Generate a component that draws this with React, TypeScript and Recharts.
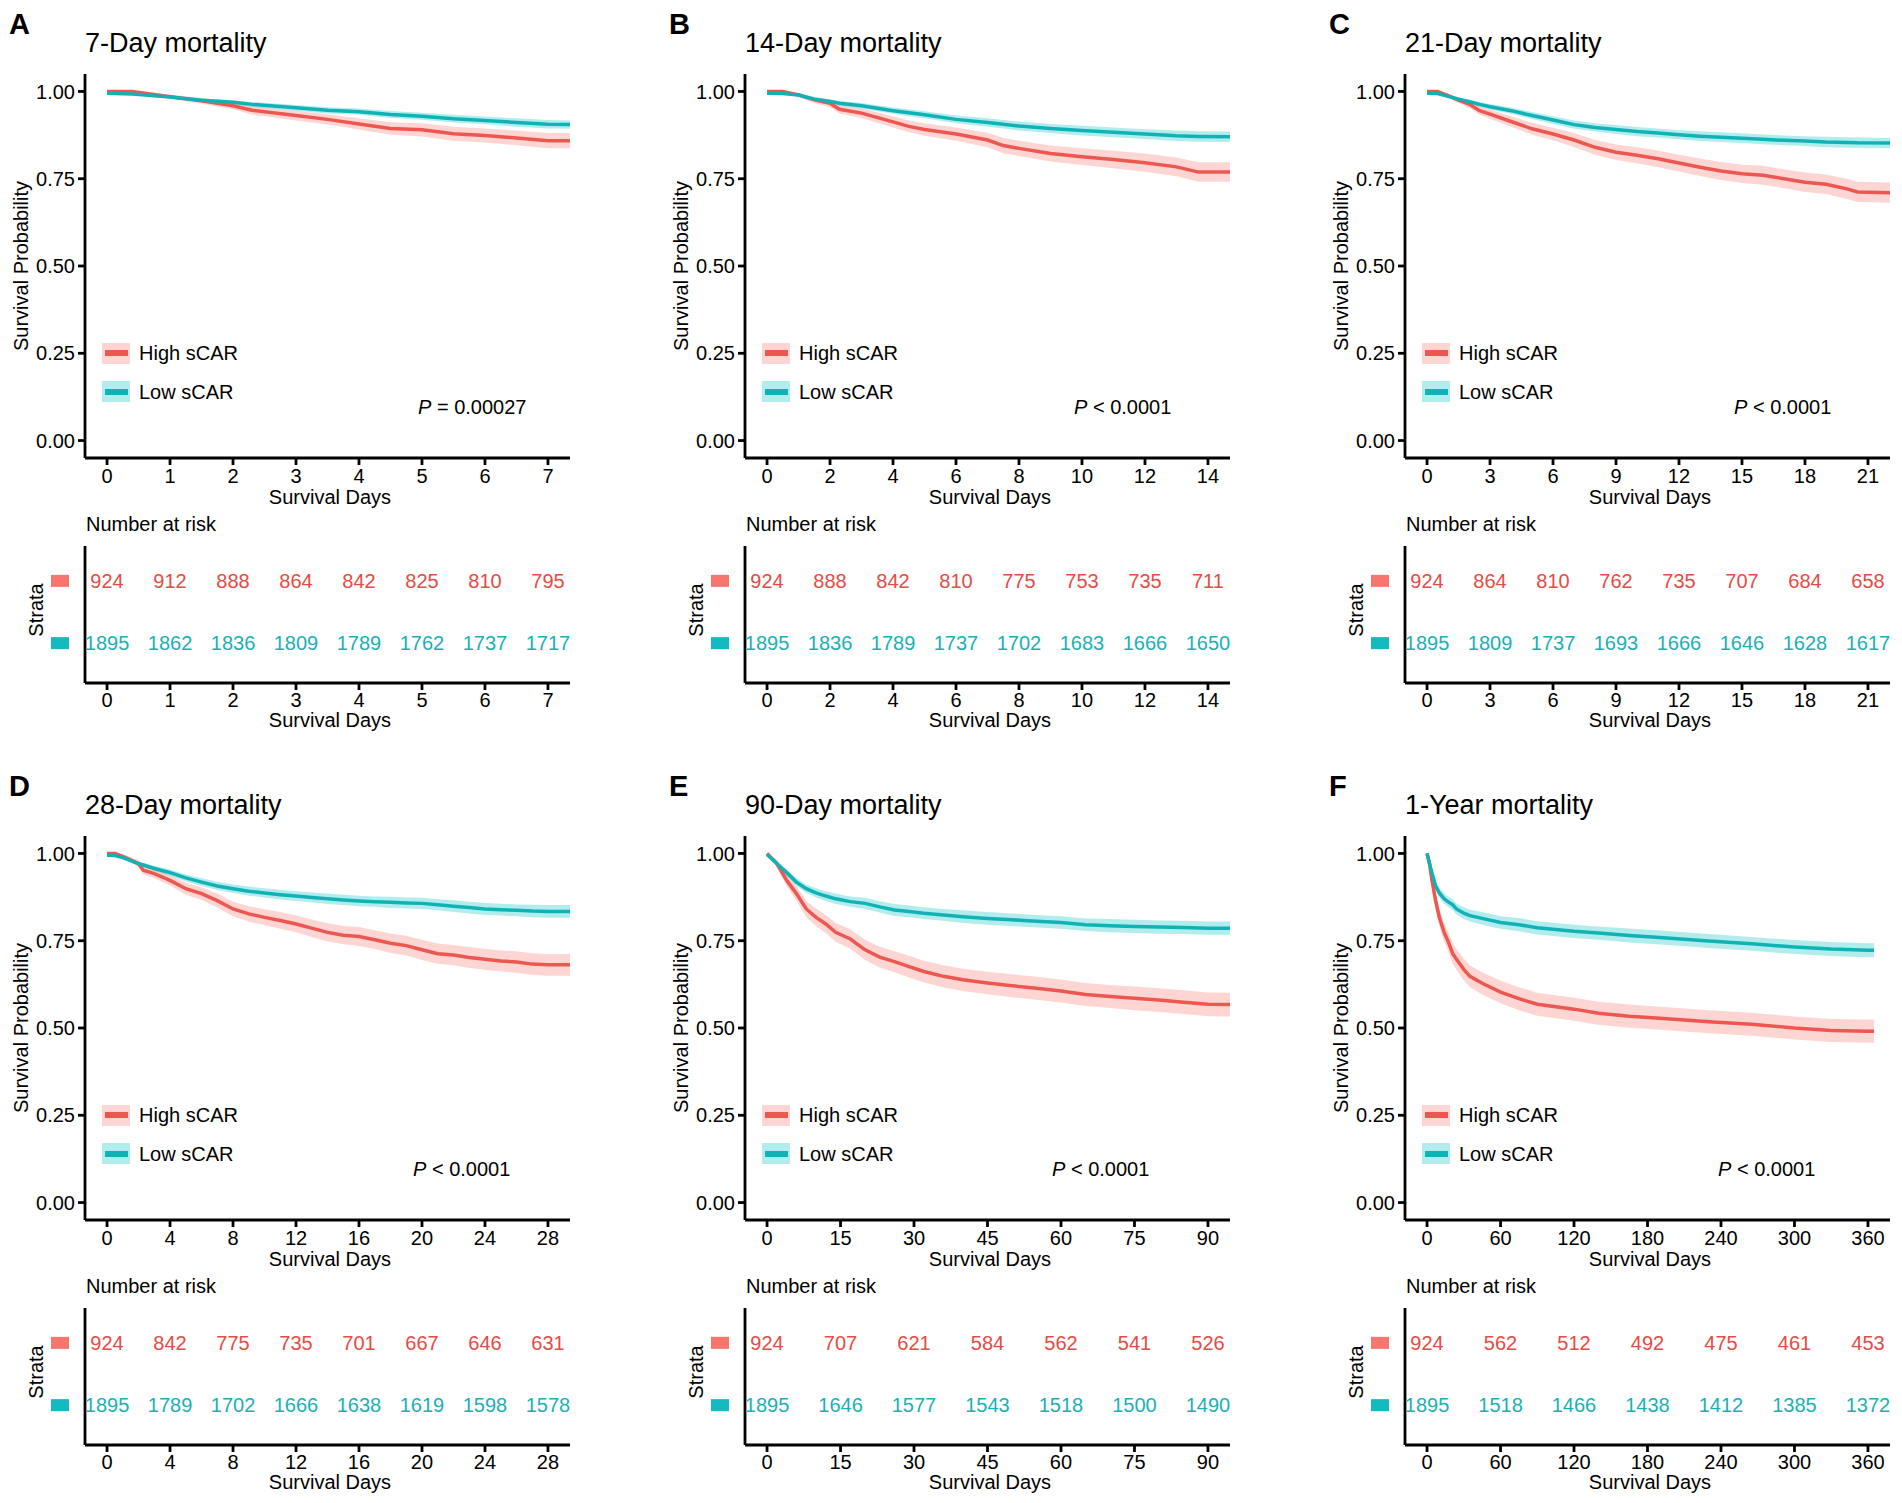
import React from 'react';
import { ComposedChart, Line, Area, XAxis, YAxis, ScatterChart, Scatter } from 'recharts';

const FONT = '"Liberation Sans", Arial, Helvetica, sans-serif';
const RED = '#EE5650';
const TEAL = '#10B2B6';
const RED_BAND = '#F8766D';
const TEAL_BAND = '#00BFC4';
const RED_TEXT = '#E84A44';
const TEAL_TEXT = '#19B1B5';
const RED_SQ = '#F7766D';
const TEAL_SQ = '#13BAC0';

const Y_TICKS = [0, 0.25, 0.5, 0.75, 1];

// A: 7-day
const timesA = [0, 0.4, 1, 1.5, 2, 2.3, 3, 3.5, 4, 4.5, 5, 5.5, 6, 6.5, 7, 7.35];
const highA = [1, 1, 0.985, 0.973, 0.959, 0.946, 0.931, 0.92, 0.907, 0.894, 0.89, 0.879, 0.874, 0.867, 0.859, 0.859];
const highCiA = [0, 0, 0.006, 0.008, 0.01, 0.012, 0.014, 0.015, 0.016, 0.018, 0.019, 0.02, 0.02, 0.021, 0.022, 0.022];
const lowA = [0.995, 0.993, 0.984, 0.975, 0.969, 0.963, 0.953, 0.946, 0.942, 0.934, 0.929, 0.922, 0.917, 0.911, 0.906, 0.905];
const lowCiA = [0.002, 0.002, 0.004, 0.005, 0.006, 0.007, 0.008, 0.009, 0.009, 0.01, 0.01, 0.011, 0.011, 0.012, 0.012, 0.012];
const ticksA = [0, 1, 2, 3, 4, 5, 6, 7];
const riskHighA = [924, 912, 888, 864, 842, 825, 810, 795];
const riskLowA = [1895, 1862, 1836, 1809, 1789, 1762, 1737, 1717];

// B: 14-day
const timesB = [0, 0.5, 1, 1.5, 2, 2.3, 3, 4, 4.5, 5, 6, 7, 7.5, 8, 9, 10, 11, 12, 13, 13.7, 14.7];
const highB = [1, 1, 0.99, 0.976, 0.966, 0.949, 0.938, 0.913, 0.9, 0.891, 0.878, 0.861, 0.845, 0.837, 0.822, 0.813, 0.805, 0.796, 0.784, 0.769, 0.769];
const highCiB = [0, 0, 0.006, 0.009, 0.011, 0.012, 0.014, 0.016, 0.017, 0.018, 0.019, 0.021, 0.022, 0.022, 0.023, 0.024, 0.025, 0.026, 0.027, 0.028, 0.028];
const lowB = [0.995, 0.994, 0.99, 0.978, 0.971, 0.966, 0.959, 0.945, 0.939, 0.933, 0.92, 0.911, 0.906, 0.901, 0.894, 0.888, 0.883, 0.878, 0.873, 0.871, 0.87];
const lowCiB = [0.002, 0.002, 0.004, 0.005, 0.006, 0.007, 0.008, 0.009, 0.01, 0.01, 0.011, 0.012, 0.012, 0.013, 0.013, 0.014, 0.014, 0.014, 0.015, 0.015, 0.015];
const ticksB = [0, 2, 4, 6, 8, 10, 12, 14];
const riskHighB = [924, 888, 842, 810, 775, 753, 735, 711];
const riskLowB = [1895, 1836, 1789, 1737, 1702, 1683, 1666, 1650];

// C: 21-day
const timesC = [0, 0.5, 1, 1.5, 2, 2.5, 3, 4, 5, 6, 7, 8, 9, 10, 11, 12, 13, 14, 15, 16, 17, 18, 19, 20, 20.5, 22.05];
const highC = [1, 1, 0.988, 0.975, 0.964, 0.945, 0.935, 0.914, 0.893, 0.878, 0.861, 0.84, 0.826, 0.817, 0.807, 0.795, 0.783, 0.772, 0.764, 0.76, 0.75, 0.74, 0.734, 0.721, 0.712, 0.71];
const highCiC = [0, 0, 0.006, 0.008, 0.01, 0.012, 0.013, 0.015, 0.017, 0.018, 0.02, 0.021, 0.022, 0.023, 0.024, 0.024, 0.025, 0.026, 0.026, 0.027, 0.027, 0.028, 0.028, 0.029, 0.029, 0.029];
const lowC = [0.995, 0.994, 0.986, 0.978, 0.971, 0.963, 0.956, 0.945, 0.931, 0.918, 0.905, 0.897, 0.891, 0.885, 0.881, 0.876, 0.872, 0.869, 0.866, 0.863, 0.86, 0.858, 0.855, 0.854, 0.853, 0.852];
const lowCiC = [0.002, 0.002, 0.004, 0.005, 0.006, 0.007, 0.008, 0.009, 0.01, 0.011, 0.012, 0.012, 0.013, 0.013, 0.013, 0.013, 0.014, 0.014, 0.014, 0.014, 0.014, 0.014, 0.015, 0.015, 0.015, 0.015];
const ticksC = [0, 3, 6, 9, 12, 15, 18, 21];
const riskHighC = [924, 864, 810, 762, 735, 707, 684, 658];
const riskLowC = [1895, 1809, 1737, 1693, 1666, 1646, 1628, 1617];

// D: 28-day
const timesD = [0, 0.5, 1, 2, 2.3, 3, 4, 5, 6, 7, 8, 9, 10, 11, 12, 13, 14, 15, 16, 17, 18, 19, 20, 21, 22, 23, 24, 25, 26, 27, 28, 29.4];
const highD = [1, 1, 0.992, 0.971, 0.952, 0.942, 0.923, 0.899, 0.885, 0.865, 0.841, 0.827, 0.817, 0.808, 0.798, 0.786, 0.774, 0.766, 0.762, 0.753, 0.743, 0.736, 0.724, 0.713, 0.709, 0.702, 0.697, 0.692, 0.689, 0.683, 0.681, 0.681];
const highCiD = [0, 0, 0.006, 0.01, 0.012, 0.013, 0.015, 0.017, 0.018, 0.02, 0.021, 0.022, 0.023, 0.024, 0.024, 0.025, 0.026, 0.026, 0.027, 0.027, 0.028, 0.028, 0.029, 0.029, 0.029, 0.03, 0.03, 0.03, 0.031, 0.031, 0.031, 0.031];
const lowD = [0.995, 0.994, 0.988, 0.971, 0.967, 0.957, 0.945, 0.93, 0.918, 0.907, 0.899, 0.892, 0.887, 0.882, 0.878, 0.874, 0.87, 0.867, 0.864, 0.862, 0.86, 0.858, 0.857, 0.853, 0.849, 0.845, 0.841, 0.839, 0.837, 0.835, 0.834, 0.834];
const lowCiD = [0.002, 0.002, 0.004, 0.006, 0.006, 0.008, 0.009, 0.01, 0.011, 0.012, 0.012, 0.013, 0.013, 0.014, 0.014, 0.014, 0.015, 0.015, 0.015, 0.015, 0.016, 0.016, 0.016, 0.016, 0.017, 0.017, 0.017, 0.017, 0.017, 0.018, 0.018, 0.018];
const ticksD = [0, 4, 8, 12, 16, 20, 24, 28];
const riskHighD = [924, 842, 775, 735, 701, 667, 646, 631];
const riskLowD = [1895, 1789, 1702, 1666, 1638, 1619, 1598, 1578];

// E: 90-day
const timesE = [0, 2, 4, 6, 8, 10, 12, 14, 17, 20, 23, 26, 29, 32, 36, 40, 45, 50, 55, 60, 65, 70, 75, 80, 85, 90, 94.5];
const highE = [1, 0.971, 0.923, 0.885, 0.841, 0.817, 0.798, 0.774, 0.755, 0.724, 0.703, 0.69, 0.676, 0.662, 0.648, 0.638, 0.629, 0.621, 0.614, 0.606, 0.596, 0.59, 0.585, 0.58, 0.574, 0.568, 0.567];
const highCiE = [0, 0.011, 0.017, 0.02, 0.023, 0.025, 0.026, 0.027, 0.028, 0.029, 0.03, 0.03, 0.031, 0.031, 0.032, 0.032, 0.032, 0.033, 0.033, 0.033, 0.033, 0.033, 0.034, 0.034, 0.034, 0.034, 0.034];
const lowE = [0.997, 0.971, 0.945, 0.918, 0.899, 0.887, 0.878, 0.87, 0.862, 0.857, 0.847, 0.838, 0.834, 0.829, 0.824, 0.819, 0.814, 0.81, 0.806, 0.802, 0.796, 0.793, 0.791, 0.789, 0.788, 0.786, 0.786];
const lowCiE = [0, 0.006, 0.009, 0.011, 0.012, 0.013, 0.014, 0.015, 0.015, 0.016, 0.016, 0.017, 0.017, 0.017, 0.017, 0.018, 0.018, 0.018, 0.018, 0.018, 0.018, 0.019, 0.019, 0.019, 0.019, 0.019, 0.019];
const ticksE = [0, 15, 30, 45, 60, 75, 90];
const riskHighE = [924, 707, 621, 584, 562, 541, 526];
const riskLowE = [1895, 1646, 1577, 1543, 1518, 1500, 1490];

// F: 1-year
const timesF = [0, 2, 4, 7, 10, 14, 17, 21, 24, 30, 35, 45, 60, 75, 90, 120, 140, 165, 190, 230, 265, 300, 330, 360, 365];
const highF = [1, 0.971, 0.923, 0.865, 0.817, 0.774, 0.75, 0.713, 0.697, 0.668, 0.648, 0.628, 0.603, 0.584, 0.568, 0.554, 0.542, 0.534, 0.528, 0.518, 0.511, 0.5, 0.493, 0.491, 0.491];
const highCiF = [0, 0.011, 0.017, 0.022, 0.025, 0.027, 0.028, 0.029, 0.03, 0.031, 0.031, 0.032, 0.032, 0.033, 0.033, 0.033, 0.033, 0.033, 0.033, 0.033, 0.033, 0.033, 0.033, 0.033, 0.033];
const lowF = [1, 0.971, 0.945, 0.907, 0.887, 0.87, 0.862, 0.853, 0.841, 0.829, 0.822, 0.814, 0.802, 0.796, 0.787, 0.777, 0.772, 0.765, 0.759, 0.749, 0.741, 0.732, 0.726, 0.723, 0.723];
const lowCiF = [0, 0.006, 0.009, 0.012, 0.013, 0.015, 0.015, 0.016, 0.016, 0.017, 0.017, 0.018, 0.018, 0.019, 0.019, 0.019, 0.019, 0.02, 0.02, 0.02, 0.02, 0.02, 0.02, 0.02, 0.02];
const ticksF = [0, 60, 120, 180, 240, 300, 360];
const riskHighF = [924, 562, 512, 492, 475, 461, 453];
const riskLowF = [1895, 1518, 1466, 1438, 1412, 1385, 1372];

const PANELS = [
  { letter: 'A', title: '7-Day mortality', times: timesA, high: highA, highCi: highCiA, low: lowA, lowCi: lowCiA, xDomain: [-0.35, 7.35], xTicks: ticksA, riskHigh: riskHighA, riskLow: riskLowA, pText: ' = 0.00027', pX: 418 },
  { letter: 'B', title: '14-Day mortality', times: timesB, high: highB, highCi: highCiB, low: lowB, lowCi: lowCiB, xDomain: [-0.7, 14.7], xTicks: ticksB, riskHigh: riskHighB, riskLow: riskLowB, pText: ' < 0.0001', pX: 414 },
  { letter: 'C', title: '21-Day mortality', times: timesC, high: highC, highCi: highCiC, low: lowC, lowCi: lowCiC, xDomain: [-1.05, 22.05], xTicks: ticksC, riskHigh: riskHighC, riskLow: riskLowC, pText: ' < 0.0001', pX: 414 },
  { letter: 'D', title: '28-Day mortality', times: timesD, high: highD, highCi: highCiD, low: lowD, lowCi: lowCiD, xDomain: [-1.4, 29.4], xTicks: ticksD, riskHigh: riskHighD, riskLow: riskLowD, pText: ' < 0.0001', pX: 413 },
  { letter: 'E', title: '90-Day mortality', times: timesE, high: highE, highCi: highCiE, low: lowE, lowCi: lowCiE, xDomain: [-4.5, 94.5], xTicks: ticksE, riskHigh: riskHighE, riskLow: riskLowE, pText: ' < 0.0001', pX: 392 },
  { letter: 'F', title: '1-Year mortality', times: timesF, high: highF, highCi: highCiF, low: lowF, lowCi: lowCiF, xDomain: [-18, 378], xTicks: ticksF, riskHigh: riskHighF, riskLow: riskLowF, pText: ' < 0.0001', pX: 398 },
];

const axisStyle = { stroke: '#000', strokeWidth: 2.8 };
const tickStyle = { fill: '#000', fontSize: 20, fontFamily: FONT };

function TextAt({ x, cy, size, align = 'left', bold = false, color = '#000', children }: any) {
  const shift = align === 'center' ? '-50%' : align === 'right' ? '-100%' : '0';
  return (
    <div
      style={{
        position: 'absolute',
        left: x,
        top: cy - size,
        height: size * 2,
        lineHeight: `${size * 2}px`,
        fontSize: size,
        fontWeight: bold ? 700 : 400,
        fontFamily: FONT,
        color,
        whiteSpace: 'nowrap',
        transform: `translateX(${shift})`,
      }}
    >
      {children}
    </div>
  );
}

function VText({ cx, cy, size, children }: any) {
  return (
    <div
      style={{
        position: 'absolute',
        left: cx,
        top: cy,
        fontSize: size,
        lineHeight: `${size * 1.2}px`,
        fontFamily: FONT,
        whiteSpace: 'nowrap',
        transform: 'translate(-50%, -50%) rotate(-90deg)',
      }}
    >
      {children}
    </div>
  );
}

function LegendKey({ cy, line, band, label }: any) {
  return (
    <>
      <div style={{ position: 'absolute', left: 102, top: cy - 10.5, width: 28, height: 21, background: band, opacity: 0.3 }} />
      <div style={{ position: 'absolute', left: 105, top: cy - 3, width: 23, height: 6, background: line }} />
      <TextAt x={139} cy={cy} size={20}>{label}</TextAt>
    </>
  );
}

function StrataTick(props: any) {
  const v = props.payload?.value;
  return <rect x={props.x - 18} y={props.y - 6} width={18} height={12} fill={v === 2 ? RED_SQ : TEAL_SQ} />;
}

function riskShape(color: string) {
  return (p: any) => (
    <text x={p.cx} y={p.cy} dy="0.355em" textAnchor="middle" fill={color} fontSize={20} fontFamily={FONT}>
      {p.payload.n}
    </text>
  );
}

function Panel({ cfg, ox, oy }: any) {
  const rows = cfg.times.map((t: number, i: number) => ({
    t,
    high: cfg.high[i],
    low: cfg.low[i],
    highBand: [cfg.high[i] - cfg.highCi[i], cfg.high[i] + cfg.highCi[i]],
    lowBand: [cfg.low[i] - cfg.lowCi[i], cfg.low[i] + cfg.lowCi[i]],
  }));
  const riskHigh = cfg.xTicks.map((x: number, i: number) => ({ x, y: 2, n: cfg.riskHigh[i] }));
  const riskLow = cfg.xTicks.map((x: number, i: number) => ({ x, y: 1, n: cfg.riskLow[i] }));

  return (
    <div style={{ position: 'absolute', left: ox, top: oy, width: 600, height: 760 }}>
      <TextAt x={9} cy={24} size={29} bold>{cfg.letter}</TextAt>
      <TextAt x={85} cy={42.5} size={27}>{cfg.title}</TextAt>

      <div style={{ position: 'absolute', left: 0, top: 0 }}>
        <ComposedChart width={590} height={520} data={rows} margin={{ top: 74, right: 20, bottom: 22, left: 0 }}>
          <XAxis
            type="number"
            dataKey="t"
            domain={cfg.xDomain}
            ticks={cfg.xTicks}
            interval={0}
            allowDataOverflow
            height={40}
            tickSize={7}
            tickMargin={4}
            axisLine={axisStyle}
            tickLine={axisStyle}
            tick={tickStyle}
          />
          <YAxis
            type="number"
            domain={[-0.05, 1.05]}
            ticks={Y_TICKS}
            interval={0}
            allowDataOverflow
            width={85}
            tickSize={7}
            tickMargin={3}
            tickFormatter={(v: number) => v.toFixed(2)}
            axisLine={axisStyle}
            tickLine={axisStyle}
            tick={tickStyle}
          />
          <Area dataKey="highBand" type="linear" stroke="none" fill={RED_BAND} fillOpacity={0.3} isAnimationActive={false} />
          <Area dataKey="lowBand" type="linear" stroke="none" fill={TEAL_BAND} fillOpacity={0.3} isAnimationActive={false} />
          <Line dataKey="high" type="linear" stroke={RED} strokeWidth={3.5} dot={false} isAnimationActive={false} />
          <Line dataKey="low" type="linear" stroke={TEAL} strokeWidth={3.5} dot={false} isAnimationActive={false} />
        </ComposedChart>
      </div>

      <VText cx={21} cy={266} size={20}>Survival Probability</VText>
      <LegendKey cy={353} line={RED} band={RED_BAND} label="High sCAR" />
      <LegendKey cy={391.5} line={TEAL} band={TEAL_BAND} label="Low sCAR" />
      <TextAt x={cfg.pX} cy={406.5} size={20}>
        <i>P</i>
        {cfg.pText}
      </TextAt>
      <TextAt x={330} cy={497} size={20} align="center">Survival Days</TextAt>

      <TextAt x={86} cy={524} size={20}>Number at risk</TextAt>
      <div style={{ position: 'absolute', left: 0, top: 530 }}>
        <ScatterChart width={590} height={220} margin={{ top: 16, right: 20, bottom: 27, left: 0 }}>
          <XAxis
            type="number"
            dataKey="x"
            domain={cfg.xDomain}
            ticks={cfg.xTicks}
            interval={0}
            allowDataOverflow
            height={40}
            tickSize={7}
            tickMargin={3}
            axisLine={axisStyle}
            tickLine={axisStyle}
            tick={tickStyle}
          />
          <YAxis
            type="number"
            dataKey="y"
            domain={[0.36, 2.56]}
            ticks={[1, 2]}
            interval={0}
            allowDataOverflow
            width={85}
            tickSize={0}
            tickMargin={16}
            tickLine={false}
            axisLine={axisStyle}
            tick={<StrataTick />}
          />
          <Scatter data={riskHigh} shape={riskShape(RED_TEXT)} isAnimationActive={false} />
          <Scatter data={riskLow} shape={riskShape(TEAL_TEXT)} isAnimationActive={false} />
        </ScatterChart>
      </div>
      <VText cx={36} cy={610} size={20}>Strata</VText>
      <TextAt x={330} cy={720} size={20} align="center">Survival Days</TextAt>
    </div>
  );
}

export default function App() {
  return (
    <div style={{ position: 'absolute', left: 0, top: 0, width: 1902, height: 1503, background: '#fff', overflow: 'hidden' }}>
      {PANELS.map((cfg, i) => (
        <Panel key={cfg.letter} cfg={cfg} ox={(i % 3) * 660} oy={Math.floor(i / 3) * 762} />
      ))}
    </div>
  );
}
